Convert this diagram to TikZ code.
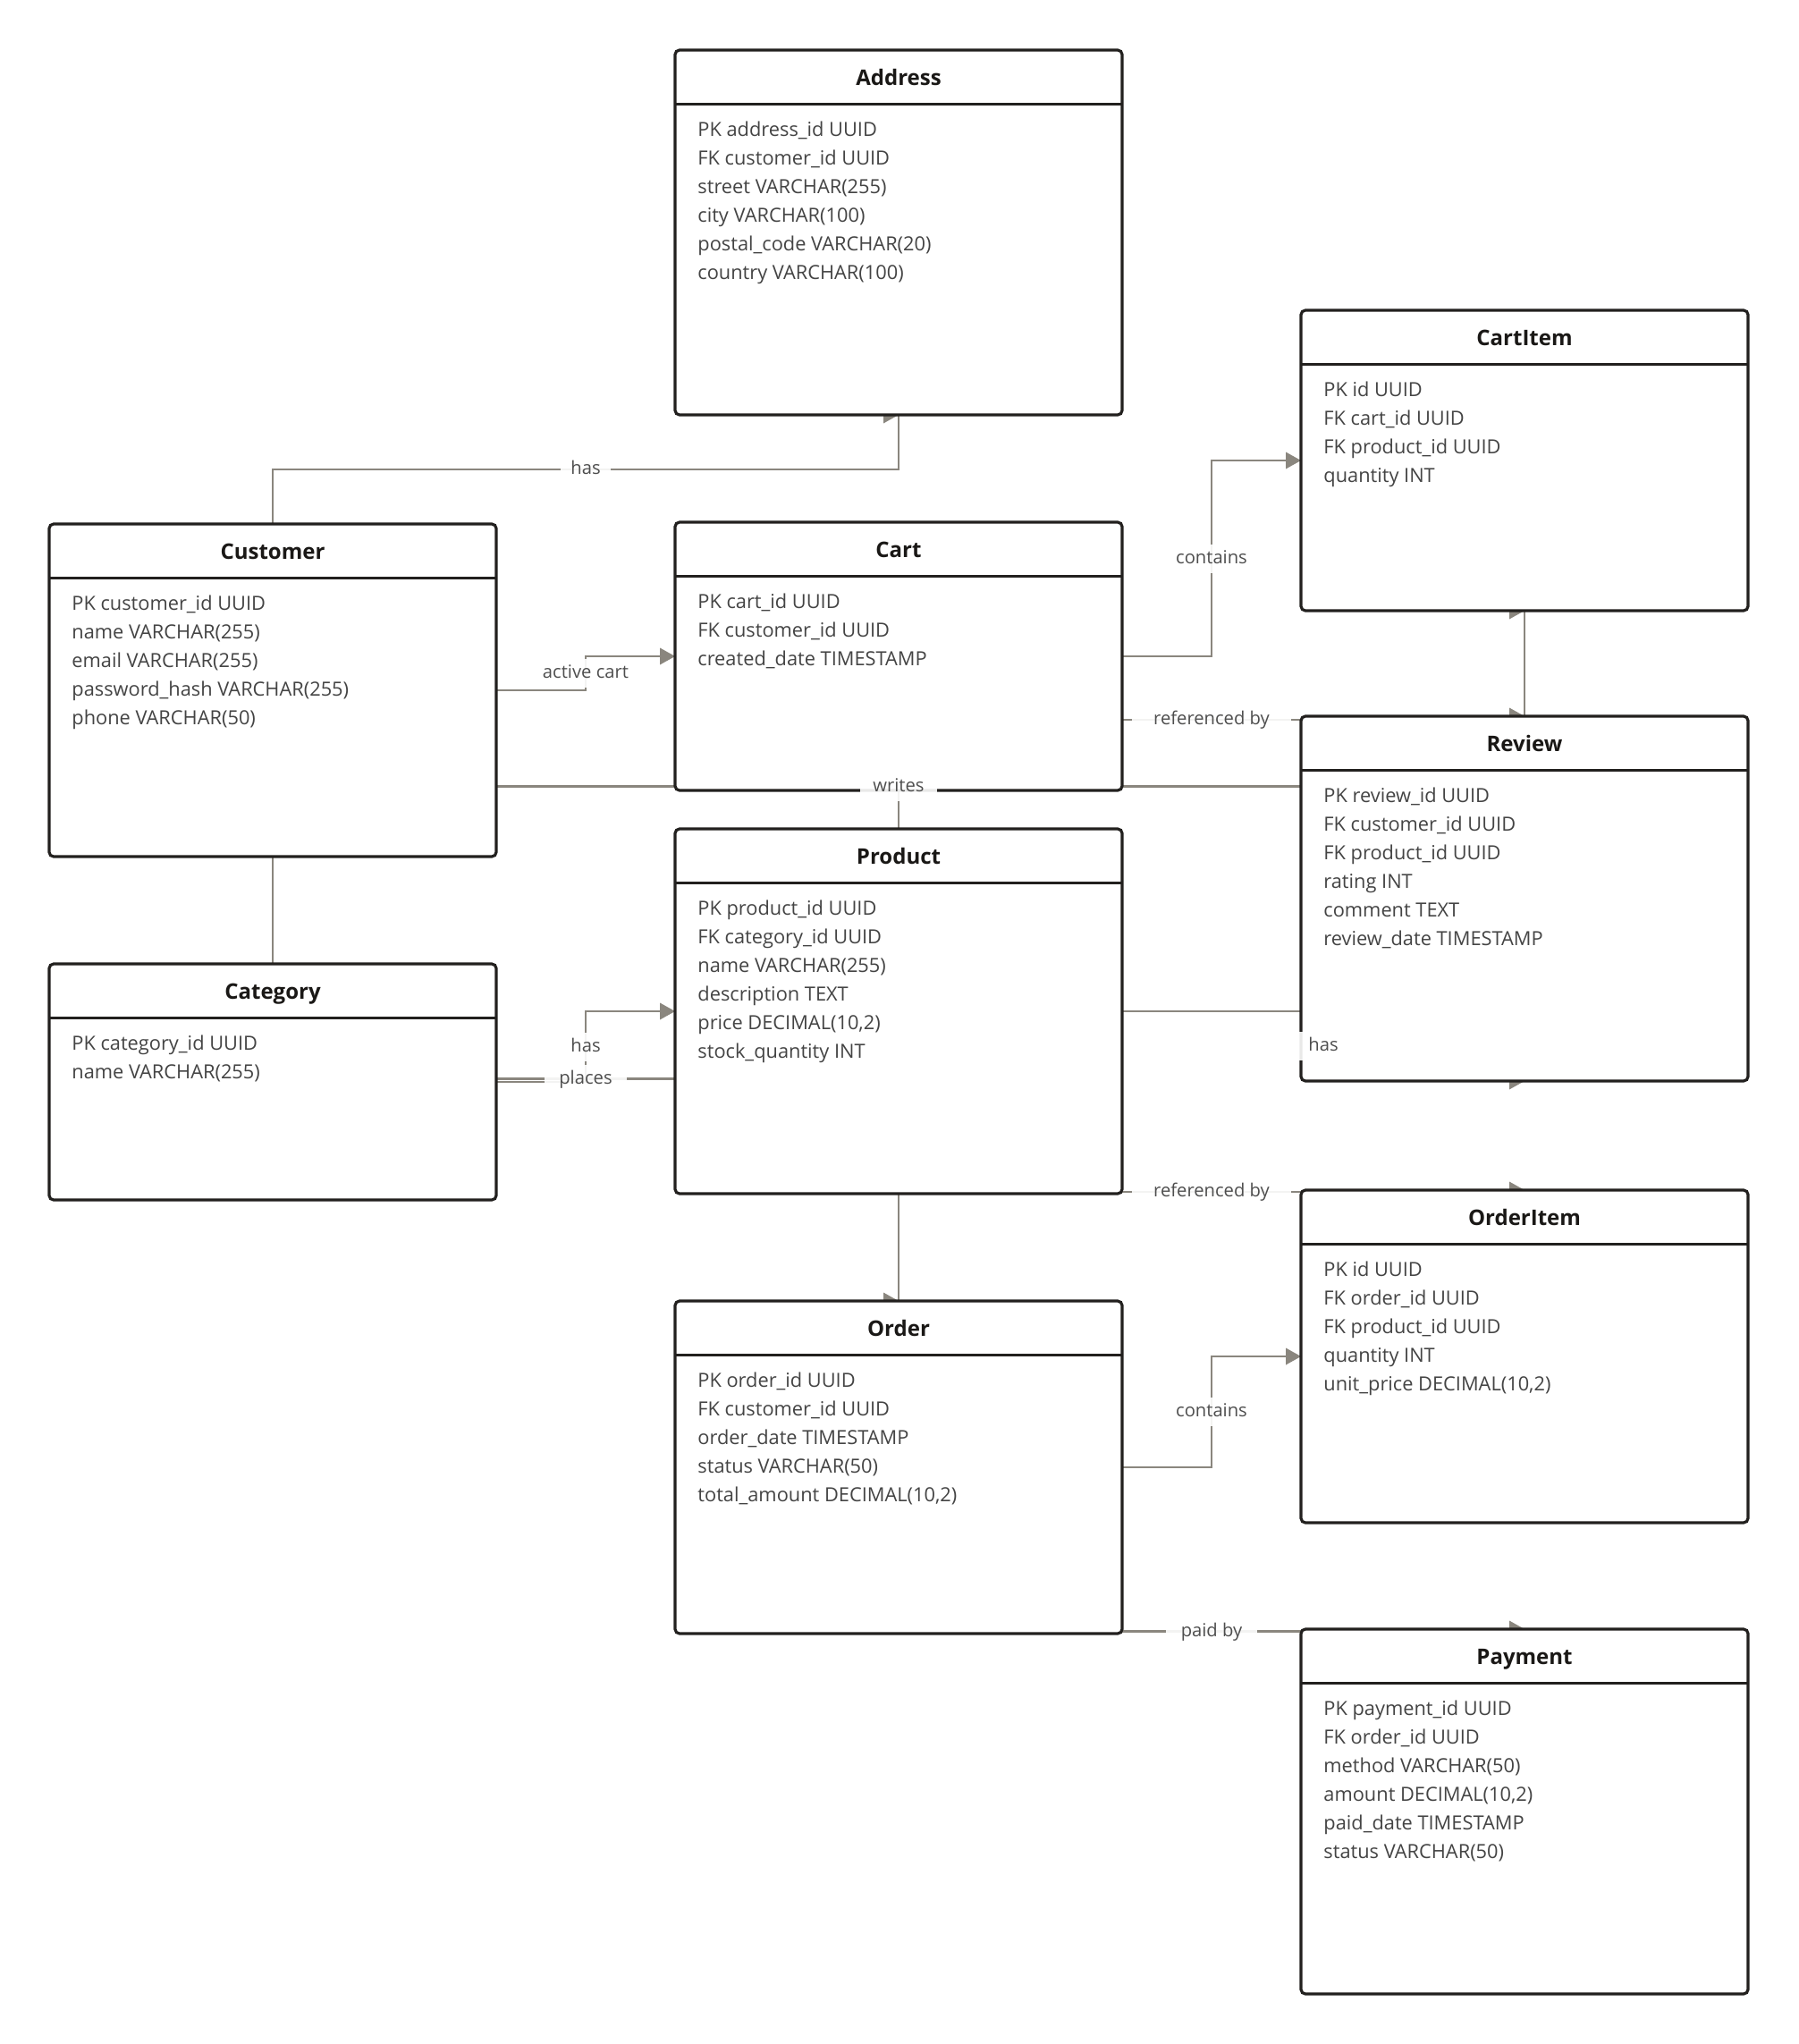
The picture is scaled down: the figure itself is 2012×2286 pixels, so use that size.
\documentclass[tikz,border=0pt]{standalone}
\usepackage{fontspec}
\setmainfont{Open Sans}
\usetikzlibrary{calc}
\pgfdeclarelayer{bg}
\pgfsetlayers{bg,main}
\definecolor{edgecol}{RGB}{138,134,126}
\definecolor{boxcol}{RGB}{34,32,30}
\definecolor{titlecol}{RGB}{26,24,22}
\definecolor{fieldcol}{RGB}{68,68,68}
\definecolor{labcol}{RGB}{78,78,78}
\tikzset{
  entity/.style={rectangle, draw=boxcol, line width=1.6pt, fill=white, rounded corners=2.5pt, minimum width=250pt, inner sep=0pt, outer sep=0pt, anchor=north west},
  hdrline/.style={draw=boxcol, line width=1.5pt},
  etitle/.style={font=\fontsize{12}{14}\selectfont\bfseries, text=titlecol, anchor=base, inner sep=0pt},
  efield/.style={font=\fontsize{10.9}{12}\selectfont, text=fieldcol, anchor=base west, inner sep=0pt},
  conn/.style={draw=edgecol, line width=1.45pt},
  elabel/.style={font=\fontsize{10.1}{12}\selectfont, text=labcol, fill=white, fill opacity=0.9, text opacity=1, inner xsep=7pt, inner ysep=3.2pt, text height=7.6pt, text depth=2pt},
}
\newcommand\arrowtip[1]{\fill[edgecol] (#1) -- ++(-17,-9.5) -- ++(0,19) -- cycle;}
\newcommand\erbox[6]{%
  \node[entity, minimum height=#4*0.5pt] (#1) at (#2,#3) {};
  \draw[hdrline] ([yshift=-30pt]#1.north west) -- ([yshift=-30pt]#1.north east);
  \node[etitle] (#1-t) at ([yshift=-19.8pt]#1.north) {#5};
  \foreach \r [count=\i] in {#6} {
    \node[efield] (#1-f\i) at ([xshift=12.5pt, yshift={-48.3pt-16pt*(\i-1)}]#1.north west) {\r};
  }%
}
\begin{document}
\begin{tikzpicture}[x=0.5pt, y=-0.5pt]
\useasboundingbox (0,0) rectangle (2012,2286);

% ---------- entities ----------
\erbox{addr}{755}{56}{408}{Address}{PK address\_id UUID, FK customer\_id UUID, street VARCHAR(255), city VARCHAR(100), postal\_code VARCHAR(20), country VARCHAR(100)}
\erbox{citem}{1455}{347}{336}{CartItem}{PK id UUID, FK cart\_id UUID, FK product\_id UUID, quantity INT}
\erbox{cust}{55}{586}{372}{Customer}{PK customer\_id UUID, name VARCHAR(255), email VARCHAR(255), password\_hash VARCHAR(255), phone VARCHAR(50)}
\erbox{cart}{755}{584}{300}{Cart}{PK cart\_id UUID, FK customer\_id UUID, created\_date TIMESTAMP}
\erbox{review}{1455}{801}{408}{Review}{PK review\_id UUID, FK customer\_id UUID, FK product\_id UUID, rating INT, comment TEXT, review\_date TIMESTAMP}
\erbox{prod}{755}{927}{408}{Product}{PK product\_id UUID, FK category\_id UUID, name VARCHAR(255), description TEXT, {price DECIMAL(10,2)}, stock\_quantity INT}
\erbox{cat}{55}{1078}{264}{Category}{PK category\_id UUID, name VARCHAR(255)}
\erbox{oitem}{1455}{1331}{372}{OrderItem}{PK id UUID, FK order\_id UUID, FK product\_id UUID, quantity INT, {unit\_price DECIMAL(10,2)}}
\erbox{order}{755}{1455}{372}{Order}{PK order\_id UUID, FK customer\_id UUID, order\_date TIMESTAMP, status VARCHAR(50), {total\_amount DECIMAL(10,2)}}
\erbox{pay}{1455}{1822}{408}{Payment}{PK payment\_id UUID, FK order\_id UUID, method VARCHAR(50), {amount DECIMAL(10,2)}, paid\_date TIMESTAMP, status VARCHAR(50)}

% ---------- connectors (behind the entities) ----------
\begin{pgfonlayer}{bg}
\coordinate (m1) at ($(cust.north)!0.5!(addr.south)$);
\draw[conn] (cust.north) |- (m1) -| (addr.south);
\arrowtip{addr.south}

\coordinate (m2) at ($(cust.east)!0.5!(cart.west)$);
\draw[conn] (cust.east) -| (m2) |- (cart.west);
\arrowtip{cart.west}

\coordinate (m3) at ($(cart.east)!0.5!(citem.west)$);
\draw[conn] (cart.east) -| (m3) |- (citem.west);
\arrowtip{citem.west}

\coordinate (m4) at ($(prod.north)!0.5!(citem.south)$);
\draw[conn] (prod.north) |- (m4) -| (citem.south);
\arrowtip{citem.south}

\draw[conn] (citem.south) -- (review.north);
\arrowtip{review.north}

\coordinate (mw) at ($(review.north)!0.5!(cust.south)$);
\coordinate (m5) at ($(cust.east |- mw)!0.5!(review.west |- mw)$);
\draw[conn] (cust.east |- mw) -- (review.west |- mw);

\coordinate (m6) at ($(prod.east)!0.5!(review.south)$);
\draw[conn] (prod.east) -| (review.south);
\arrowtip{review.south}

\coordinate (m7) at ($(cat.east)!0.5!(prod.west)$);
\draw[conn] (cat.east) -| (m7) |- (prod.west);
\arrowtip{prod.west}

\coordinate (m8) at ($(cust.south)!0.5!(order.north)$);
\draw[conn] (cust.south) |- (m8) -| (order.north);
\arrowtip{order.north}

\coordinate (m9) at ($(order.east)!0.5!(oitem.west)$);
\draw[conn] (order.east) -| (m9) |- (oitem.west);
\arrowtip{oitem.west}

\coordinate (m10) at ($(prod.south)!0.5!(oitem.north)$);
\draw[conn] (prod.south) |- (m10) -| (oitem.north);
\arrowtip{oitem.north}

\coordinate (m11) at ($(order.south)!0.5!(pay.north)$);
\draw[conn] (order.south) |- (m11) -| (pay.north);
\arrowtip{pay.north}
\end{pgfonlayer}

% ---------- labels ----------
\node[elabel, inner xsep=5.5pt] (l1) at (m1) {has};
\node[elabel] (l2) at (m2) {active cart};
\node[elabel] (l3) at (m3) {contains};
\node[elabel, inner xsep=12pt] (l4) at (m4) {referenced by};
\node[elabel] (l5) at (m5) {writes};
\node[elabel, inner xsep=5.5pt] (l6) at (m6) {has};
\node[elabel, inner xsep=5.5pt] (l7) at (m7) {has};
\node[elabel, inner xsep=8pt] (l8) at (m8) {places};
\node[elabel] (l9) at (m9) {contains};
\node[elabel, inner xsep=12pt] (l10) at (m10) {referenced by};
\node[elabel, inner xsep=8.5pt] (l11) at (m11) {paid by};
\end{tikzpicture}
\end{document}
